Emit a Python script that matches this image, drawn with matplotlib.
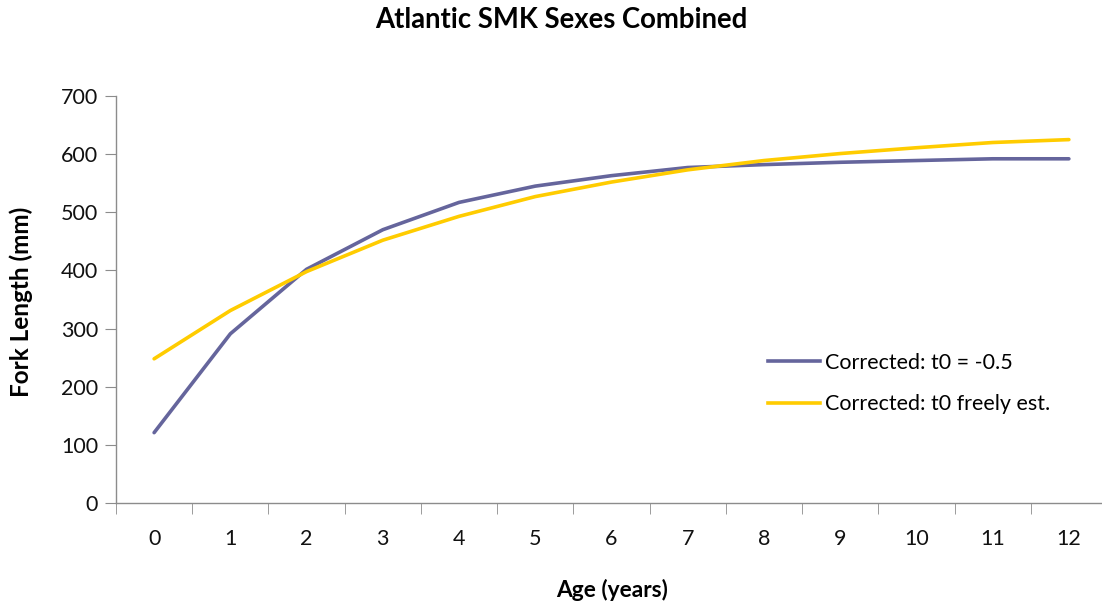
import matplotlib
matplotlib.use("Agg")
import matplotlib.pyplot as plt
from matplotlib.lines import Line2D

plt.rcParams['font.family'] = ['Lato', 'DejaVu Sans']

ages = list(range(13))
age_labels = [str(a) for a in ages]
corrected_fixed = [121, 291, 402, 470, 517, 545, 563, 577, 582, 586, 589, 592, 592]
corrected_free = [248, 331, 398, 452, 493, 527, 552, 573, 589, 601, 611, 620, 625]
series_names = ["Corrected: t0 = -0.5", "Corrected: t0 freely est."]
yticks = [0, 100, 200, 300, 400, 500, 600, 700]

W, H = 1102, 604
fig = plt.figure(figsize=(W / 100, H / 100), dpi=100)
left, right, top, bottom = 116, 1107, 96, 503
ax = fig.add_axes([left / W, 1 - bottom / H, (right - left) / W, (bottom - top) / H])

purple = '#65659C'
yellow = '#FFCC00'
ax.plot(ages, corrected_fixed, color=purple, lw=2.6, solid_capstyle='round')
ax.plot(ages, corrected_free, color=yellow, lw=2.6, solid_capstyle='round')

ax.set_xlim(-0.5, 12.5)
ax.set_ylim(0, 700)
ax.set_yticks(yticks)
ax.set_yticklabels([str(v) for v in yticks])
ax.set_xticks(ages)
ax.set_xticklabels(age_labels)
ax.set_xticks([a + 0.5 for a in range(-1, 13)], minor=True)

for s in ['top', 'right']:
    ax.spines[s].set_visible(False)
for s in ['left', 'bottom']:
    ax.spines[s].set_color('#8c8c8c')
    ax.spines[s].set_linewidth(1.0)

ax.tick_params(axis='y', direction='out', length=8, color='#8c8c8c', labelsize=15.5, pad=5, labelcolor='#111111')
ax.tick_params(axis='x', which='major', length=0, labelsize=15.5, pad=19, labelcolor='#111111')
ax.tick_params(axis='x', which='minor', direction='out', length=8, color='#8c8c8c')

fig.text(21 / W, 1 - 302 / H, 'Fork Length (mm)', fontsize=17.5, fontweight='bold',
         rotation=90, ha='center', va='center')
fig.text(612 / W, 1 - 590 / H, 'Age (years)', fontsize=16.4, fontweight='bold', ha='center', va='center')
fig.text(561 / W, 1 - 20 / H, 'Atlantic SMK Sexes Combined', fontsize=19.8, fontweight='bold', ha='center', va='center')

handles = [Line2D([], [], color=purple, lw=2.6), Line2D([], [], color=yellow, lw=2.6)]
leg = fig.legend(handles, series_names, loc='upper left', bbox_to_anchor=(768 / W, 1 - 353 / H),
                 bbox_transform=fig.transFigure, borderpad=0, borderaxespad=0,
                 frameon=False, fontsize=15.5, handlelength=2.4, handletextpad=0.25,
                 labelspacing=0.98)

fig.savefig('out.png', dpi=100)
